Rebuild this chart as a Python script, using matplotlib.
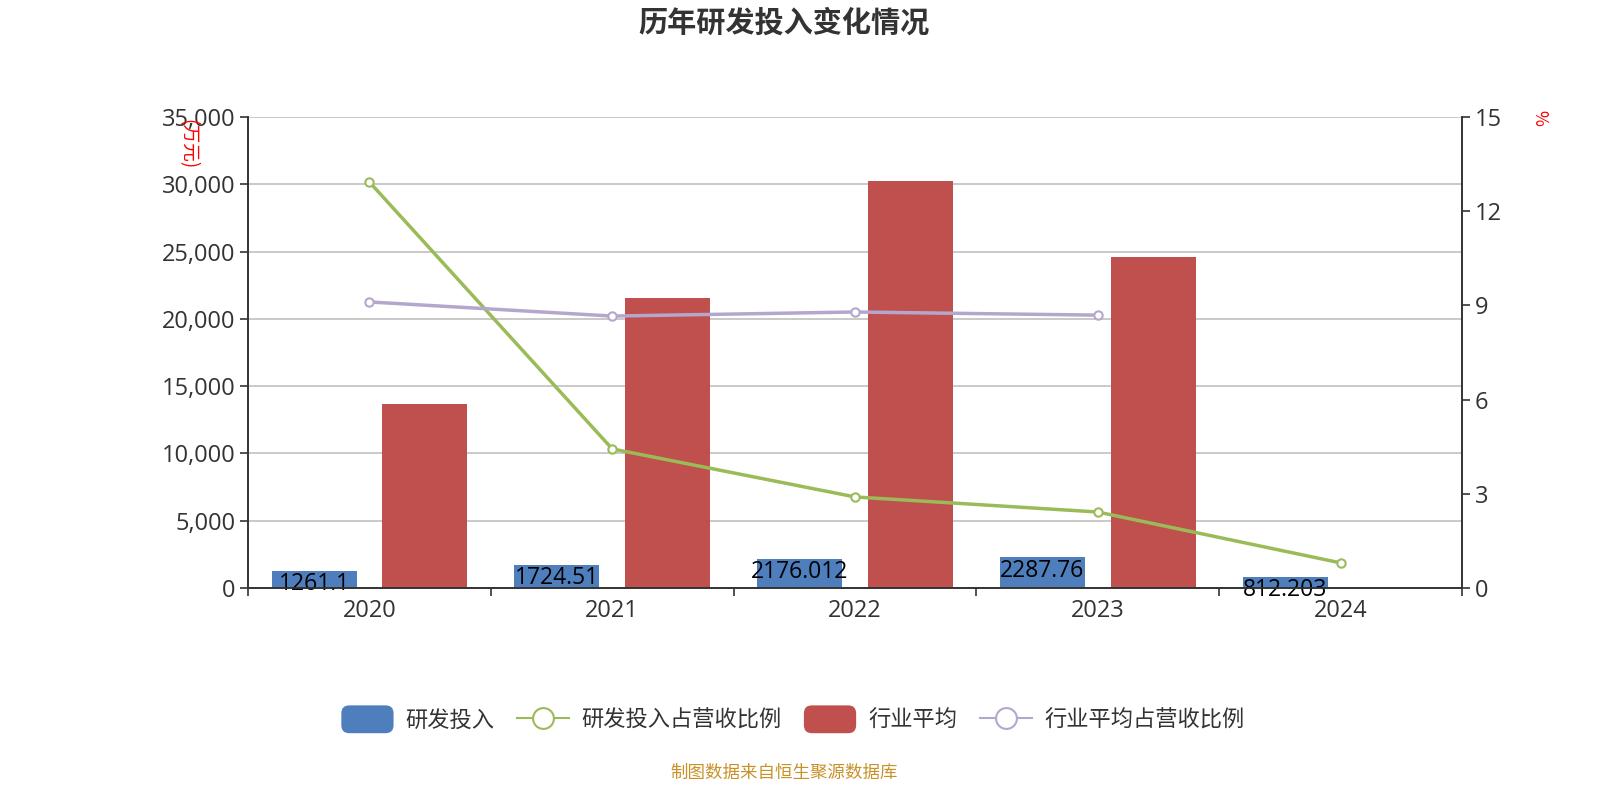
import matplotlib
matplotlib.use("Agg")
import matplotlib.pyplot as plt
import numpy as np
from matplotlib.patches import FancyBboxPatch
from matplotlib.lines import Line2D
from matplotlib.legend_handler import HandlerPatch
import matplotlib.patches as mpatches

plt.rcParams['font.family'] = ['Open Sans', 'Noto Sans CJK SC', 'DejaVu Sans']
CJK = ['Noto Sans CJK SC', 'DejaVu Sans']

years = ['2020', '2021', '2022', '2023', '2024']
rd = [1261.1, 1724.51, 2176.012, 2287.76, 812.203]
rd_labels = ['1261.1', '1724.51', '2176.012', '2287.76', '812.203']
ind_avg = [13700, 21550, 30250, 24600, None]
rd_ratio = [12.93, 4.43, 2.90, 2.42, 0.80]
ind_ratio = [9.11, 8.66, 8.79, 8.69, None]

c_blue = '#4F7EBD'
c_red = '#C0504D'
c_green = '#9BBB59'
c_purple = '#B4A7CD'

fig = plt.figure(figsize=(16, 8), dpi=100)
ax = fig.add_axes([0.155, 0.265, 0.75875, 0.58875])
ax2 = ax.twinx()

x = np.arange(len(years))
w = 0.35
off = 0.228
ax.bar(x - off, rd, width=w, color=c_blue, zorder=2)
ind_x = [xi + off for xi, v in zip(x, ind_avg) if v is not None]
ind_v = [v for v in ind_avg if v is not None]
ax.bar(ind_x, ind_v, width=w, color=c_red, zorder=2)
for xi, v, lab in zip(x, rd, rd_labels):
    ax.annotate(lab, (xi - off, v), xytext=(0, -1), textcoords='offset points',
                ha='center', va='top', fontsize=16.5, color='black', zorder=5)

ax2.plot(x, rd_ratio, color=c_green, lw=2.5, marker='o', ms=6,
         mfc='white', mec=c_green, mew=1.5, zorder=4)
ix = [xi for xi, v in zip(x, ind_ratio) if v is not None]
iv = [v for v in ind_ratio if v is not None]
ax2.plot(ix, iv, color=c_purple, lw=2.5, marker='o', ms=6,
         mfc='white', mec=c_purple, mew=1.5, zorder=4)

ax.set_xlim(-0.5, 4.5)
ax.set_ylim(0, 35000)
ax.set_yticks(np.arange(0, 35001, 5000))
ax.set_yticklabels([f'{v:,}' for v in range(0, 35001, 5000)])
ax2.set_ylim(0, 15)
ax2.set_yticks(np.arange(0, 16, 3))

ax.set_xticks(x)
ax.set_xticklabels(years)
ax.set_xticks(np.arange(-0.5, 4.6, 1), minor=True)
ax.tick_params(axis='x', which='major', length=0, labelsize=17, colors='#333333', pad=8)
ax.tick_params(axis='x', which='minor', length=6, color='#333333', width=1.2)
ax.tick_params(axis='y', length=6, labelsize=17, colors='#333333', width=1.2, pad=3)
ax2.tick_params(axis='y', length=6, labelsize=17, colors='#333333', width=1.2, pad=3)

ax.grid(axis='y', color='#C0C0C0', lw=1.2, zorder=0)
ax.set_axisbelow(True)
for a in (ax, ax2):
    a.spines['top'].set_visible(False)
    for s in ('left', 'right', 'bottom'):
        a.spines[s].set_color('#333333')
        a.spines[s].set_linewidth(1.2)

fig.text(0.117, 0.82, '(万元)', rotation=-90, color='red', fontsize=13.5,
         ha='center', va='center', family=CJK)
fig.text(0.962, 0.852, '%', rotation=-90, color='red', fontsize=12.5,
         ha='center', va='center', family=CJK)

fig.text(0.49, 0.972, '历年研发投入变化情况', ha='center', va='center',
         fontsize=21, fontweight='bold', color='#333333', family=CJK)
fig.text(0.49, 0.034, '制图数据来自恒生聚源数据库', ha='center', va='center',
         fontsize=12.6, color='#C8922A', family=CJK)


class RoundHandler(HandlerPatch):
    def create_artists(self, legend, orig_handle, xdescent, ydescent,
                       width, height, fontsize, trans):
        p = FancyBboxPatch((-xdescent, -ydescent - 0.2 * height), width, height * 1.4,
                           boxstyle='round,pad=0,rounding_size=%f' % (height * 0.4),
                           facecolor=orig_handle.get_facecolor(), edgecolor='none',
                           transform=trans)
        return [p]


h1 = mpatches.Patch(color=c_blue)
h2 = Line2D([0], [0], color=c_green, lw=1.5, marker='o', ms=15, mfc='white', mec=c_green, mew=1.5)
h3 = mpatches.Patch(color=c_red)
h4 = Line2D([0], [0], color=c_purple, lw=1.5, marker='o', ms=15, mfc='white', mec=c_purple, mew=1.5)
leg = fig.legend([h1, h2, h3, h4], ['研发投入', '研发投入占营收比例', '行业平均', '行业平均占营收比例'],
                 loc='center', bbox_to_anchor=(0.4955, 0.0995), ncol=4, frameon=False,
                 prop={'family': CJK, 'size': 16}, handlelength=2.35, handleheight=1.0,
                 columnspacing=1.0, handletextpad=0.55,
                 handler_map={mpatches.Patch: RoundHandler()})
for t in leg.get_texts():
    t.set_color('#333333')

fig.savefig('out.png', dpi=100)
